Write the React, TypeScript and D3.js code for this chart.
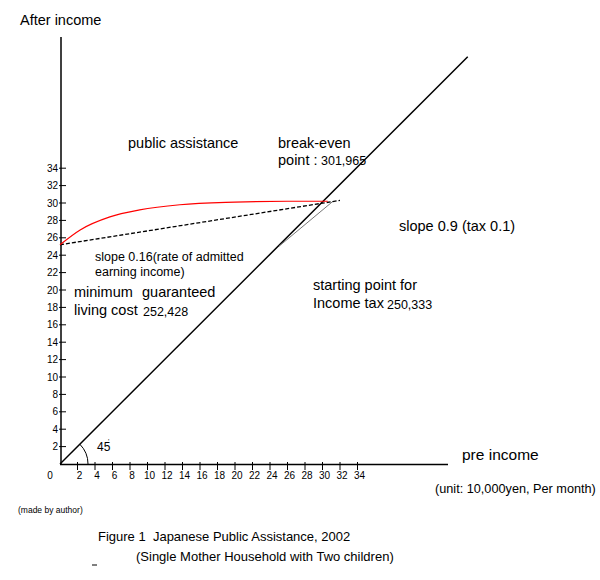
import React from "react";
import * as d3 from "d3";

const yTicks = [2, 4, 6, 8, 10, 12, 14, 16, 18, 20, 22, 24, 26, 28, 30, 32, 34];
const xTicks = [2, 4, 6, 8, 10, 12, 14, 16, 18, 20, 22, 24, 26, 28, 30, 32, 34];
// public assistance (after income) curve
const assistX = [0, 2.3, 5.7, 9.1, 13.7, 20, 26, 30.6];
const assistY = [25.2, 26.9, 28.4, 29.2, 29.8, 30.1, 30.2, 30.2];
// slope 0.16 dashed line
const dashX = [0, 32];
const dashY = [25.2, 30.3];
// slope 0.9 tax line
const taxX = [25.03, 31.2];
const taxY = [25.03, 30.2];
// 45 degree line
const diagX = [0, 46.6];
const diagY = [0, 46.8];

const FONT = "'Liberation Sans', Arial, sans-serif";

export default function App() {
  const x = d3.scaleLinear().domain([0, 34]).range([60, 357.5]);
  const y = d3.scaleLinear().domain([0, 34]).range([464, 168.2]);
  const line = d3
    .line<[number, number]>()
    .x((d) => x(d[0]))
    .y((d) => y(d[1]));
  const curve = d3
    .line<[number, number]>()
    .x((d) => x(d[0]))
    .y((d) => y(d[1]))
    .curve(d3.curveMonotoneX);
  const zip = (a: number[], b: number[]) => a.map((v, i) => [v, b[i]] as [number, number]);

  // 45 degree arc
  const r = 28;
  const arc = `M${x(0) + r * Math.cos(Math.PI / 4)},${y(0) - r * Math.sin(Math.PI / 4)} A${r},${r} 0 0 1 ${x(0) + r},${y(0)}`;

  return (
    <svg
      width={600}
      height={580}
      style={{ position: "absolute", left: 0, top: 0, background: "#fff" }}
      fontFamily={FONT}
    >
      <rect width={600} height={580} fill="#fff" />
      {/* axes */}
      <line x1={61} y1={37} x2={61} y2={465} stroke="#000" strokeWidth={1.5} />
      <line x1={60} y1={464.5} x2={448} y2={464.5} stroke="#000" strokeWidth={1.3} />
      {yTicks.map((t) => (
        <g key={"y" + t}>
          <line x1={59} x2={66} y1={y(t)} y2={y(t)} stroke="#000" strokeWidth={1} />
          <text x={58} y={y(t) + 3.5} fontSize={10} textAnchor="end">
            {t}
          </text>
        </g>
      ))}
      {xTicks.map((t) => (
        <g key={"x" + t}>
          <line x1={x(t)} x2={x(t)} y1={462} y2={470} stroke="#000" strokeWidth={1} />
          <text x={x(t) + 2} y={479} fontSize={10} textAnchor="middle">
            {t}
          </text>
        </g>
      ))}
      <text x={50} y={479} fontSize={10} textAnchor="middle">
        0
      </text>

      {/* lines */}
      <path d={line(zip(diagX, diagY)) || ""} stroke="#000" strokeWidth={1.5} fill="none" />
      <path d={line(zip(taxX, taxY)) || ""} stroke="#777" strokeWidth={1} fill="none" />
      <path d={line(zip(dashX, dashY)) || ""} stroke="#000" strokeWidth={1.3} strokeDasharray="4,2" fill="none" />
      <path d={curve(zip(assistX, assistY)) || ""} stroke="#ff0000" strokeWidth={1.2} fill="none" />
      <path d={arc} stroke="#000" strokeWidth={1} fill="none" />
      <text x={97} y={451} fontSize={12}>45</text>
      <text x={108} y={444} fontSize={7}>'</text>

      {/* texts */}
      <text x={20} y={25} fontSize={14.5}>After income</text>
      <text x={128} y={148} fontSize={14.5}>public assistance</text>
      <text x={278} y={148} fontSize={14.5}>break-even</text>
      <text x={278} y={165} fontSize={14.5}>point :</text>
      <text x={321} y={165} fontSize={12.5}>301,965</text>
      <text x={399} y={231} fontSize={14.5}>slope 0.9 (tax 0.1)</text>
      <text x={95} y={261} fontSize={12.5}>slope 0.16(rate of admitted</text>
      <text x={95} y={276} fontSize={12.5}>earning income)</text>
      <text x={74} y={297} fontSize={14.5}>minimum</text>
      <text x={142} y={297} fontSize={14.5}>guaranteed</text>
      <text x={74} y={315} fontSize={14.5}>living cost</text>
      <text x={143} y={316} fontSize={12.5}>252,428</text>
      <text x={313} y={290} fontSize={14.5}>starting point for</text>
      <text x={313} y={308} fontSize={14.5}>Income tax</text>
      <text x={387} y={309} fontSize={12.5}>250,333</text>
      <text x={462} y={460} fontSize={15.5}>pre income</text>
      <text x={435} y={493} fontSize={12.7}>(unit: 10,000yen,  Per month)</text>
      <text x={18} y={513} fontSize={8.5}>(made by author)</text>
      <text x={98} y={541} fontSize={13} style={{ whiteSpace: "pre" }}>Figure 1  Japanese Public Assistance, 2002</text>
      <text x={136} y={561} fontSize={13}>(Single Mother Household with Two children)</text>
      <line x1={92} x2={97} y1={565} y2={565} stroke="#000" strokeWidth={1} />
    </svg>
  );
}
